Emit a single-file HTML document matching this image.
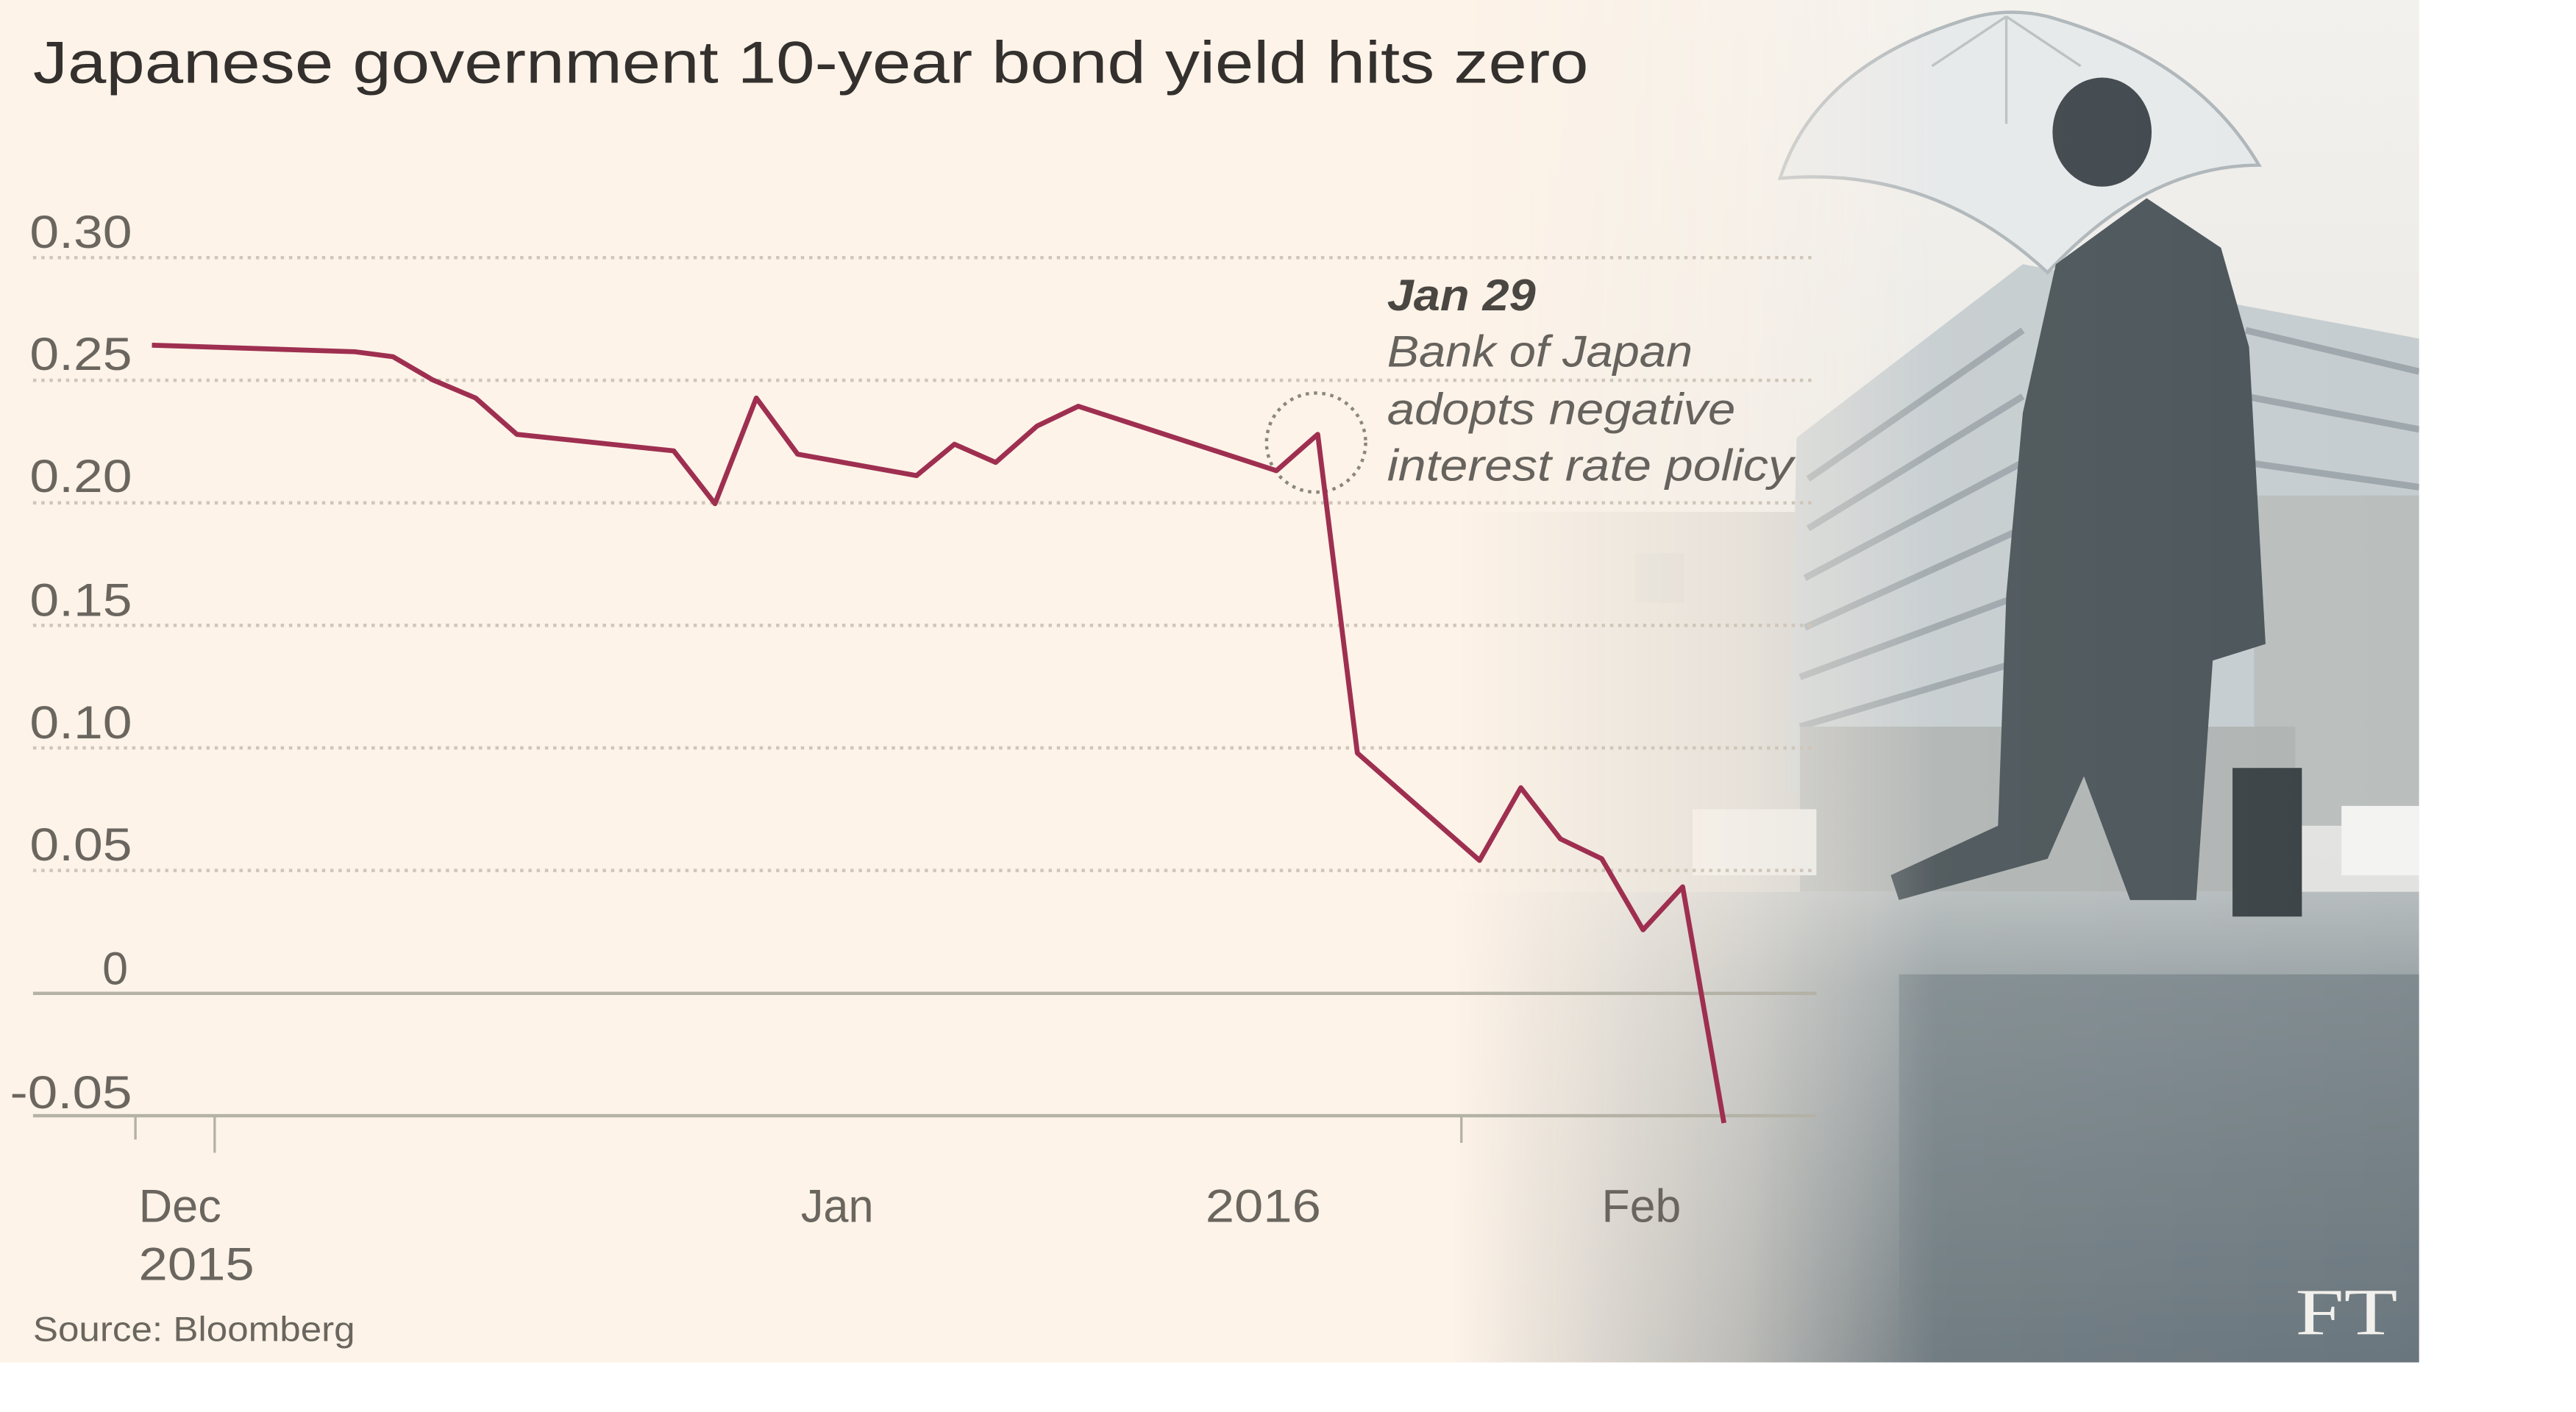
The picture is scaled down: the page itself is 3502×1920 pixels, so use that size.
<!DOCTYPE html>
<html><head><meta charset="utf-8"><style>
html,body{margin:0;padding:0;background:#fff;}
svg{display:block;}
</style></head><body>
<svg width="3502" height="1920" viewBox="0 0 1560 855" preserveAspectRatio="none" xmlns="http://www.w3.org/2000/svg">
<defs>
<linearGradient id="fade" x1="0" y1="0" x2="1" y2="0">
<stop offset="0" stop-color="#fff" stop-opacity="0"/>
<stop offset="0.3" stop-color="#fff" stop-opacity="0.45"/>
<stop offset="0.5" stop-color="#fff" stop-opacity="0.95"/>
<stop offset="1" stop-color="#fff" stop-opacity="1"/>
</linearGradient>
<mask id="m"><rect x="880" y="0" width="585" height="825" fill="url(#fade)"/></mask>
<linearGradient id="ground" x1="0" y1="0" x2="0" y2="1">
<stop offset="0" stop-color="#b7bdbe"/>
<stop offset="0.2" stop-color="#9aa3a6"/>
<stop offset="1" stop-color="#6a767c"/>
</linearGradient>
<linearGradient id="sky" x1="0" y1="0" x2="0" y2="1">
<stop offset="0" stop-color="#f3f1ed"/>
<stop offset="1" stop-color="#d9dbda"/>
</linearGradient>
</defs>
<rect x="0" y="0" width="1465" height="825" fill="#fdf3e8"/>
<g mask="url(#m)">
<rect x="880" y="0" width="585" height="825" fill="url(#sky)"/>
<rect x="885" y="310" width="205" height="230" fill="#cbccc8"/>
<rect x="990" y="335" width="30" height="30" fill="#bfc2c0"/>
<polygon points="1088,265 1225,160 1465,205 1465,480 1083,480" fill="#c6cdd0"/>
<g stroke="#9ea7ac" stroke-width="4">
<line x1="1095" y1="290" x2="1225" y2="200"/><line x1="1095" y1="320" x2="1225" y2="240"/>
<line x1="1093" y1="350" x2="1225" y2="280"/><line x1="1093" y1="380" x2="1225" y2="320"/>
<line x1="1090" y1="410" x2="1225" y2="360"/><line x1="1090" y1="440" x2="1225" y2="400"/>
<line x1="1360" y1="200" x2="1465" y2="225"/><line x1="1360" y1="240" x2="1465" y2="260"/>
<line x1="1360" y1="280" x2="1465" y2="295"/>
</g>
<rect x="1365" y="300" width="100" height="200" fill="#babfbe"/>
<rect x="1090" y="440" width="300" height="100" fill="#b0b5b4"/>
<rect x="880" y="540" width="585" height="285" fill="url(#ground)"/>
<rect x="1150" y="590" width="315" height="235" fill="#6a777d" opacity="0.55"/>
<rect x="1025" y="490" width="75" height="40" fill="#e4e6e4"/>
<rect x="1418" y="488" width="47" height="42" fill="#f3f4f2"/>
<path d="M1078,108 Q1100,40 1190,12 Q1215,4 1240,10 Q1330,35 1368,100 Q1300,100 1240,165 Q1170,100 1078,108 Z" fill="#e6e9ea" stroke="#aeb6ba" stroke-width="2"/>
<g stroke="#b9c0c3" stroke-width="1.5"><line x1="1215" y1="10" x2="1170" y2="40"/><line x1="1215" y1="10" x2="1260" y2="40"/><line x1="1215" y1="10" x2="1215" y2="75"/></g>
<ellipse cx="1273" cy="80" rx="30" ry="33" fill="#3f474c"/>
<polygon points="1245,160 1300,120 1345,150 1362,210 1372,390 1340,400 1330,545 1290,545 1262,470 1240,520 1150,545 1145,530 1210,500 1215,360 1225,250" fill="#4b555a"/>
<rect x="1352" y="465" width="42" height="90" fill="#3b4347"/>
</g>
<g stroke="#cfc6ba" stroke-width="2" stroke-dasharray="2,3">
<line x1="20" y1="156" x2="1100" y2="156"/>
<line x1="20" y1="230.3" x2="1100" y2="230.3"/>
<line x1="20" y1="304.5" x2="1100" y2="304.5"/>
<line x1="20" y1="378.7" x2="1100" y2="378.7"/>
<line x1="20" y1="452.9" x2="1100" y2="452.9"/>
<line x1="20" y1="527.1" x2="1100" y2="527.1"/>
</g>
<line x1="20" y1="601.5" x2="1100" y2="601.5" stroke="#b4b2a6" stroke-width="2"/>
<line x1="20" y1="675.6" x2="1100" y2="675.6" stroke="#b4b2a6" stroke-width="2"/>
<g stroke="#b4b2a6" stroke-width="1.5">
<line x1="82" y1="676" x2="82" y2="690"/>
<line x1="130" y1="676" x2="130" y2="698"/>
<line x1="885" y1="676" x2="885" y2="692"/>
</g>
<g font-family="Liberation Sans, sans-serif" fill="#6a665f" font-size="28">
<text x="18" y="150" textLength="62" lengthAdjust="spacingAndGlyphs">0.30</text>
<text x="18" y="224" textLength="62" lengthAdjust="spacingAndGlyphs">0.25</text>
<text x="18" y="298" textLength="62" lengthAdjust="spacingAndGlyphs">0.20</text>
<text x="18" y="373" textLength="62" lengthAdjust="spacingAndGlyphs">0.15</text>
<text x="18" y="447" textLength="62" lengthAdjust="spacingAndGlyphs">0.10</text>
<text x="18" y="521" textLength="62" lengthAdjust="spacingAndGlyphs">0.05</text>
<text x="62" y="596">0</text>
<text x="6" y="671" textLength="74" lengthAdjust="spacingAndGlyphs">-0.05</text>
<text x="84" y="740" textLength="50" lengthAdjust="spacingAndGlyphs">Dec</text>
<text x="84" y="775" textLength="70" lengthAdjust="spacingAndGlyphs">2015</text>
<text x="485" y="740" textLength="44" lengthAdjust="spacingAndGlyphs">Jan</text>
<text x="730" y="740" textLength="70" lengthAdjust="spacingAndGlyphs">2016</text>
<text x="970" y="740" textLength="48" lengthAdjust="spacingAndGlyphs">Feb</text>
<text x="20" y="812" font-size="21" textLength="195" lengthAdjust="spacingAndGlyphs">Source: Bloomberg</text>
</g>
<text x="20" y="50" font-family="Liberation Sans, sans-serif" font-size="36" fill="#33302e" textLength="942" lengthAdjust="spacingAndGlyphs">Japanese government 10-year bond yield hits zero</text>
<circle cx="797" cy="268" r="30" fill="none" stroke="#8a877f" stroke-width="2" stroke-dasharray="2,3"/>
<polyline fill="none" stroke="#9e2f50" stroke-width="3" stroke-linejoin="round" points="92,209 215,213 238,216 262,230 288,241 313,263 408,273 433,305 458,241 483,275 555,288 578,269 603,280 628,258 653,246 773,285 798,263 822,456 896,521 921,477 945,508 970,520 995,563 1019,537 1044,680"/>
<g font-family="Liberation Sans, sans-serif" font-size="27" font-style="italic">
<text x="840" y="188" font-weight="bold" fill="#4a4642" textLength="90" lengthAdjust="spacingAndGlyphs">Jan 29</text>
<text x="840" y="222" fill="#66625d" textLength="185" lengthAdjust="spacingAndGlyphs">Bank of Japan</text>
<text x="840" y="257" fill="#66625d" textLength="211" lengthAdjust="spacingAndGlyphs">adopts negative</text>
<text x="840" y="291" fill="#66625d" textLength="246" lengthAdjust="spacingAndGlyphs">interest rate policy</text>
</g>
<text x="1390" y="808" font-family="Liberation Serif, serif" font-size="40" fill="#f2f0ec" textLength="62" lengthAdjust="spacingAndGlyphs">FT</text>
</svg>
</body></html>
